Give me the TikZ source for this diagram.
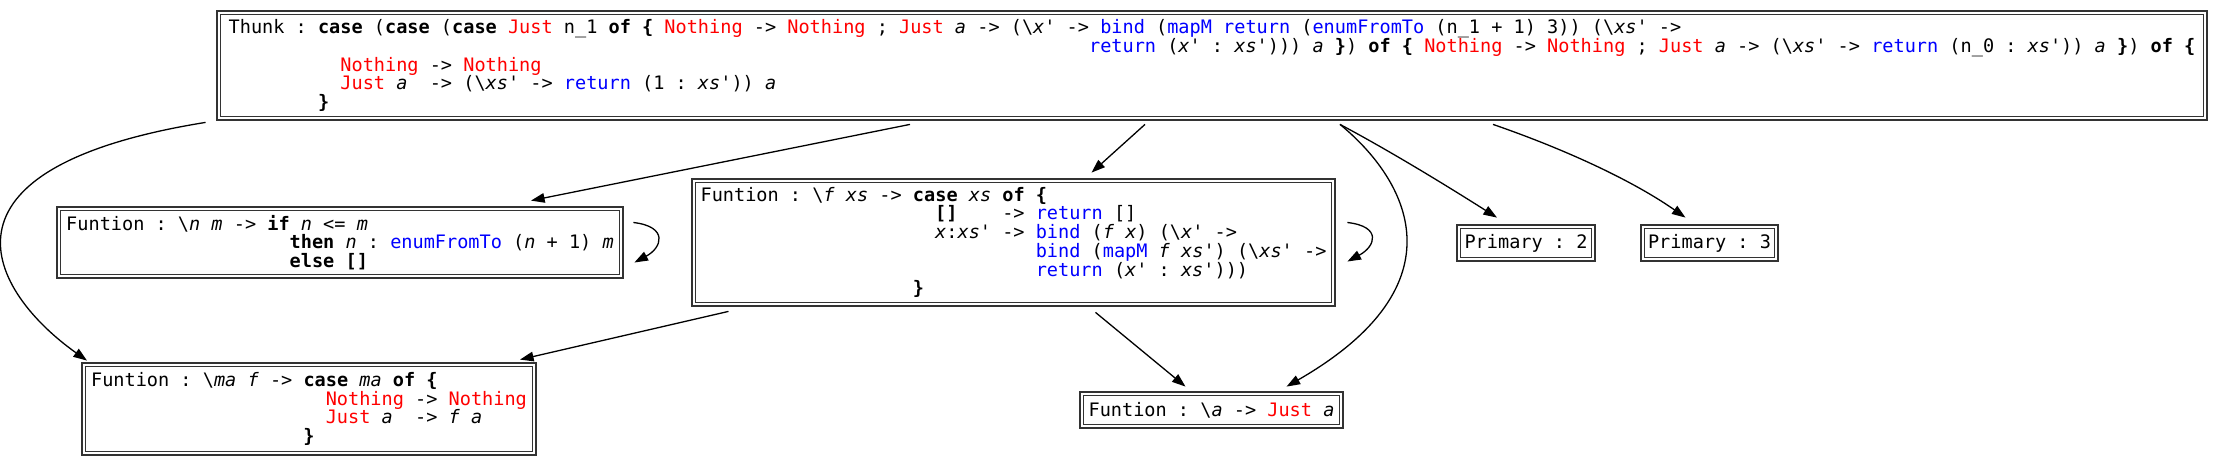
\documentclass[tikz,border=0pt]{standalone}
\usepackage{fontspec}
\setmonofont{DejaVu Sans Mono}
\usetikzlibrary{arrows.meta}

\definecolor{conred}{RGB}{255,0,0}
\definecolor{fnblue}{RGB}{0,0,255}

\newcommand{\codefont}{\ttfamily\fontsize{9.28pt}{9.35pt}\selectfont\frenchspacing}
\newcommand{\kw}[1]{\textbf{#1}}
\newcommand{\con}[1]{\textcolor{conred}{#1}}
\newcommand{\fn}[1]{\textcolor{fnblue}{#1}}
\newcommand{\idf}[1]{\textit{#1}}
\newcommand{\pad}[1]{\hspace*{#1\fontcharwd\font`\x}}

\tikzset{
  codebox/.style={draw=black!80, double, double distance=1pt, line width=0.6pt,
    inner sep=0pt, outer sep=0pt, align=left, font=\codefont},
  conn/.style={-{Triangle[length=6.8pt,width=4.8pt]}, line width=0.65pt},
}

\begin{document}
\begin{tikzpicture}[x=0.5pt,y=-0.5pt]
  \useasboundingbox (0,0) rectangle (2223,467);

  % the thunk on top
  \node[codebox, minimum width=993.4pt, minimum height=52.9pt] (thunk) at (1212,65.5) {%
    Thunk : \kw{case} (\kw{case} (\kw{case} \con{Just} n\_1 \kw{of} \kw{\{} \con{Nothing} -> \con{Nothing} ; \con{Just} \idf{a} -> (\textbackslash\idf{x'} -> \fn{bind} (\fn{mapM} \fn{return} (\fn{enumFromTo} (n\_1 + 1) 3)) (\textbackslash\idf{xs'} ->\\
    \pad{77}\fn{return} (\idf{x'} : \idf{xs'}))) \idf{a} \kw{\}}) \kw{of} \kw{\{} \con{Nothing} -> \con{Nothing} ; \con{Just} \idf{a} -> (\textbackslash\idf{xs'} -> \fn{return} (n\_0 : \idf{xs'})) \idf{a} \kw{\}}) \kw{of} \kw{\{}\\
    \pad{10}\con{Nothing} -> \con{Nothing}\\
    \pad{10}\con{Just} \idf{a}\pad{2}-> (\textbackslash\idf{xs'} -> \fn{return} (1 : \idf{xs'})) \idf{a}\\
    \pad{8}\kw{\}}};

  % functions in the middle row
  \node[codebox, minimum width=281.4pt, minimum height=33.9pt] (nmfun) at (340,242.5) {%
    Funtion : \textbackslash\idf{n} \idf{m} -> \kw{if} \idf{n} <= \idf{m}\\
    \pad{20}\kw{then} \idf{n} : \fn{enumFromTo} (\idf{n} + 1) \idf{m}\\
    \pad{20}\kw{else} \kw{[]}};

  \node[codebox, minimum width=319.9pt, minimum height=61.9pt] (fxsfun) at (1013.5,242.5) {%
    Funtion : \textbackslash\idf{f} \idf{xs} -> \kw{case} \idf{xs} \kw{of} \kw{\{}\\
    \pad{21}\kw{[]}\pad{4}-> \fn{return} []\\
    \pad{21}\idf{x}:\idf{xs'} -> \fn{bind} (\idf{f} \idf{x}) (\textbackslash\idf{x'} ->\\
    \pad{30}\fn{bind} (\fn{mapM} \idf{f} \idf{xs'}) (\textbackslash\idf{xs'} ->\\
    \pad{30}\fn{return} (\idf{x'} : \idf{xs'})))\\
    \pad{19}\kw{\}}};

  \node[codebox, minimum width=67.4pt, minimum height=16.4pt] (prim2) at (1526,243) {Primary : 2};
  \node[codebox, minimum width=66.9pt, minimum height=16.4pt] (prim3) at (1709.5,243) {Primary : 3};

  % bottom row
  \node[codebox, minimum width=225.4pt, minimum height=44.4pt] (mafun) at (309,409) {%
    Funtion : \textbackslash\idf{ma} \idf{f} -> \kw{case} \idf{ma} \kw{of} \kw{\{}\\
    \pad{21}\con{Nothing} -> \con{Nothing}\\
    \pad{21}\con{Just} \idf{a}\pad{2}-> \idf{f} \idf{a}\\
    \pad{19}\kw{\}}};

  \node[codebox, minimum width=129.9pt, minimum height=16.4pt] (ajust) at (1211.5,410) {%
    Funtion : \textbackslash\idf{a} -> \con{Just} \idf{a}};

  % edges from the thunk
  \draw[conn] ([shift={(-13,4)}]thunk.south west) .. controls +(-286,46) and +(-97,-69) .. ([shift={(-222,-4)}]mafun.north);
  \draw[conn] ([shift={(-302,6)}]thunk.south) -- ([shift={(191,-8)}]nmfun.north);
  \draw[conn] ([shift={(-67,6)}]thunk.south) -- ([shift={(78,-8)}]fxsfun.north);
  \draw[conn] ([shift={(128,6)}]thunk.south) .. controls +(67,55) and +(179,-103) .. ([shift={(75,-7)}]ajust.north);
  \draw[conn] ([shift={(128,6)}]thunk.south) .. controls +(45,24) and +(-60,-38) .. ([shift={(-29,-9)}]prim2.north);
  \draw[conn] ([shift={(281,6)}]thunk.south) .. controls +(78,27) and +(-50,-35) .. ([shift={(-24,-9)}]prim3.north);

  % recursive calls
  \draw[conn] ([shift={(12,-20)}]nmfun.east) .. controls +(35,4) and +(28,-15) .. ([shift={(13,20)}]nmfun.east);
  \draw[conn] ([shift={(14,-20)}]fxsfun.east) .. controls +(35,4) and +(28,-15) .. ([shift={(14,19)}]fxsfun.east);

  % edges out of mapM
  \draw[conn] ([shift={(-285,7)}]fxsfun.south) -- ([shift={(211,-5)}]mafun.north);
  \draw[conn] ([shift={(82,8)}]fxsfun.south) -- ([shift={(-26,-7)}]ajust.north);
\end{tikzpicture}
\end{document}
